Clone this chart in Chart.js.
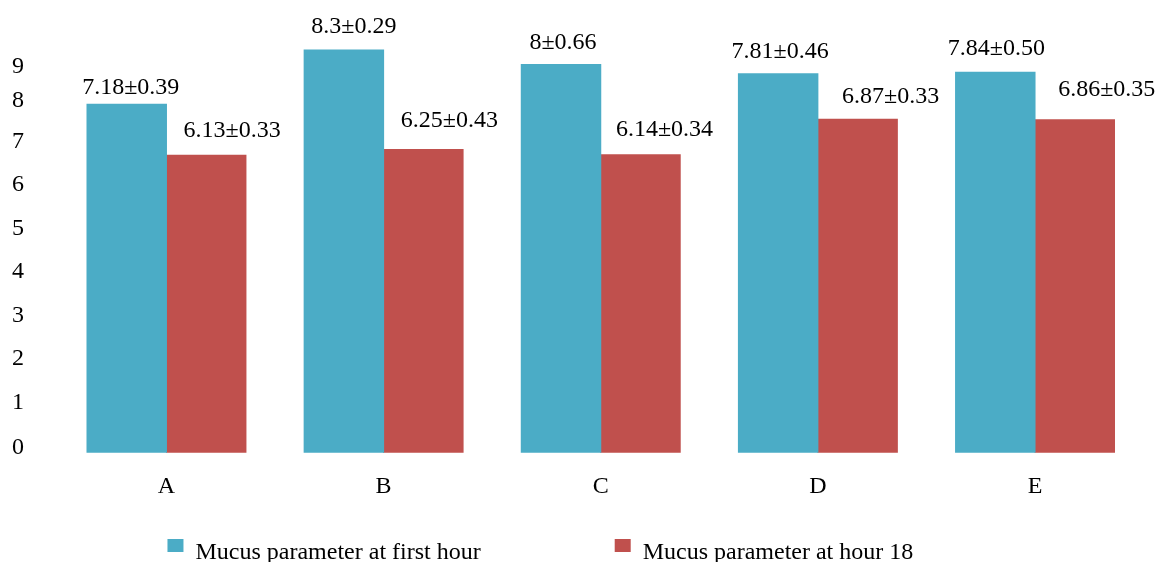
<!DOCTYPE html>
<html>
<head>
<meta charset="utf-8">
<title>Mucus parameter</title>
<script src="https://cdn.jsdelivr.net/npm/chart.js@4.4.1/dist/chart.umd.min.js"></script>
<style>
  html, body { margin: 0; padding: 0; background: #fff; overflow: hidden; }
  #wrap { position: relative; width: 1160px; height: 562px; }
</style>
</head>
<body>
<div id="wrap"><canvas id="mucusChart"></canvas></div>
<script>
// --- data ---
const groups = ['A', 'B', 'C', 'D', 'E'];
const seriesNames = ['Mucus parameter at first hour', 'Mucus parameter at hour 18'];
const firstHour = [7.18, 8.3, 8, 7.81, 7.84];
const firstHourSd = [0.39, 0.29, 0.66, 0.46, 0.50];
const hour18 = [6.13, 6.25, 6.14, 6.87, 6.86];
const hour18Sd = [0.33, 0.43, 0.34, 0.33, 0.35];

// the source axis labels don't sit on the bars' value grid, these are where they land
const yTickLabels = ['0', '1', '2', '3', '4', '5', '6', '7', '8', '9'];
const yTickAt = [0.11, 1.04, 1.93, 2.83, 3.73, 4.62, 5.52, 6.41, 7.25, 7.96];

// hand placed value labels in the original: [dx, rise] in px from the bar top
const firstHourLabelShift = [[4, 10], [10, 17], [2, 16], [2, 16], [1, 17]];
const hour18LabelShift = [[26, 18], [26, 22], [24, 19], [33, 16], [32, 24]];

const FONT = "'Liberation Serif', 'Times New Roman', serif";
const BLUE = '#4BACC6';
const RED = '#C0504D';

Chart.defaults.font.family = FONT;
Chart.defaults.color = '#000';

const valueLabels = {
  id: 'valueLabels',
  afterDatasetsDraw(chart) {
    const ctx = chart.ctx;
    ctx.save();
    ctx.font = '24px ' + FONT;
    ctx.fillStyle = '#000';
    ctx.textAlign = 'center';
    ctx.textBaseline = 'alphabetic';
    chart.data.datasets.forEach((ds, di) => {
      chart.getDatasetMeta(di).data.forEach((bar, i) => {
        const [dx, rise] = ds.labelShift[i];
        ctx.fillText(ds.data[i] + '±' + ds.sd[i].toFixed(2), bar.x + dx, bar.y - rise);
      });
    });
    ctx.restore();
  }
};

// legend row along the bottom edge (partly cut off, like the source)
const bottomLegend = {
  id: 'bottomLegend',
  afterDraw(chart) {
    const ctx = chart.ctx;
    ctx.save();
    ctx.font = '24px ' + FONT;
    ctx.textAlign = 'left';
    ctx.textBaseline = 'alphabetic';
    let x = chart.scales.x.getPixelForValue(0) + 1;
    chart.data.datasets.forEach(ds => {
      ctx.fillStyle = ds.backgroundColor;
      ctx.fillRect(x, 539, 16, 13);
      ctx.fillStyle = '#000';
      ctx.fillText(ds.label, x + 28, 558.5);
      x += 28 + ctx.measureText(ds.label).width + 134;
    });
    ctx.restore();
  }
};

new Chart(document.getElementById('mucusChart'), {
  type: 'bar',
  data: {
    labels: groups,
    datasets: [
      { label: seriesNames[0], data: firstHour, sd: firstHourSd, labelShift: firstHourLabelShift, backgroundColor: BLUE },
      { label: seriesNames[1], data: hour18, sd: hour18Sd, labelShift: hour18LabelShift, backgroundColor: RED }
    ]
  },
  options: {
    responsive: true,
    maintainAspectRatio: false,
    animation: false,
    layout: { padding: { top: 16, right: 16.4, left: 0, bottom: 0 } },
    datasets: { bar: { categoryPercentage: 0.732, barPercentage: 1, borderWidth: 0, inflateAmount: 0.5 } },
    plugins: { legend: { display: false }, tooltip: { enabled: false } },
    scales: {
      x: {
        grid: { display: false, drawTicks: false },
        border: { display: false },
        ticks: { color: '#000', font: { size: 24 }, padding: 20 },
        afterFit(s) { s.height = 109.3; s.paddingLeft = 0; s.paddingRight = 0; }
      },
      y: {
        min: 0,
        max: 9,
        grid: { display: false, drawTicks: false },
        border: { display: false },
        ticks: {
          color: '#000',
          font: { size: 24 },
          padding: 34,
          autoSkip: false,
          callback: (v, i) => yTickLabels[i]
        },
        afterBuildTicks(s) { s.ticks = yTickAt.map(v => ({ value: v })); },
        afterFit(s) { s.width = 57.9; s.paddingTop = 0; s.paddingBottom = 0; }
      }
    }
  },
  plugins: [valueLabels, bottomLegend]
});
</script>
</body>
</html>
